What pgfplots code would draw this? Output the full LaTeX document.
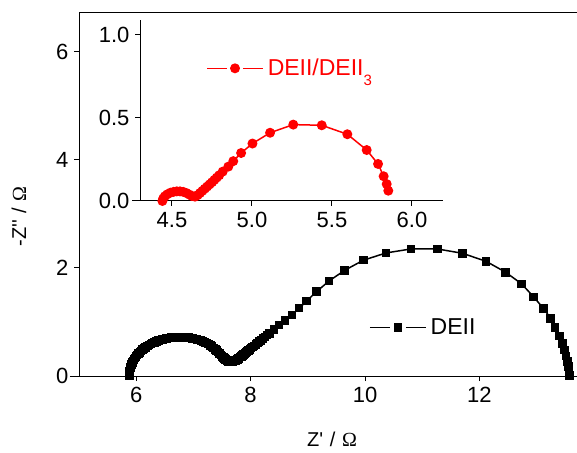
\documentclass[border=0pt]{standalone}
\usepackage{pgfplots}
\pgfplotsset{compat=1.18}
\usepackage{fontspec}
\setmainfont{Liberation Sans}[Ligatures=TeXOff]
\newfontfamily\seriffont{Liberation Serif}
\definecolor{myred}{RGB}{255,0,0}
\pgfplotsset{
  gaplegend/.style={legend image code/.code={%
    \draw[##1, mark=none] (0pt,0pt) -- (20pt,0pt);
    \draw[##1, mark=none] (36pt,0pt) -- (56pt,0pt);
    \draw[mark repeat=2,mark phase=2,##1, draw=none] plot coordinates {(0pt,0pt) (28pt,0pt) (56pt,0pt)};}},
}
\begin{document}
\begin{tikzpicture}[x=1pt,y=1pt]
\useasboundingbox (0,0) rectangle (577,452);
% main axis
\begin{axis}[
  at={(79pt,76pt)}, anchor=south west,
  scale only axis, width=500pt, height=363pt,
  xmin=5, xmax=13.741, ymin=0, ymax=6.72,
  xtick={6,8,10,12}, ytick={0,2,4,6},
  tick pos=left, tick align=outside, major tick length=5pt,
  axis line style={line width=1pt}, tick style={line width=1pt, black},
  /pgf/number format/assume math mode=true,
  tick label style={font=\fontsize{22}{24}\selectfont},
  xticklabel style={yshift=-3pt},
  yticklabel style={xshift=-2pt},
  xlabel={Z'\,\,/\,\,{\seriffont Ω}},
  ylabel={-Z''\,\,/\,\,{\seriffont Ω}},
  label style={font=\fontsize{20}{22}\selectfont},
  xlabel style={at={(axis description cs:0.506,-0.175)}, anchor=center},
  ylabel style={at={(axis description cs:-0.12,0.44)}, anchor=center, rotate=0},
  legend style={at={(axis description cs:0.58,0.133)}, anchor=west, draw=none, fill=none,
    inner sep=0pt, font=\fontsize{23}{26}\selectfont, nodes={inner xsep=4pt}},
  gaplegend,
  clip=false,
]
\addplot[black, line width=1.5pt, mark=square*, mark size=3.5pt, mark options={solid}] coordinates {
(5.880,0.000)(5.881,0.031)(5.883,0.063)(5.887,0.094)(5.893,0.125)(5.901,0.156)
(5.910,0.186)(5.921,0.216)(5.933,0.246)(5.947,0.275)(5.962,0.304)(5.980,0.332)
(5.998,0.360)(6.018,0.387)(6.039,0.413)(6.062,0.438)(6.086,0.463)(6.112,0.487)
(6.138,0.509)(6.166,0.531)(6.194,0.552)(6.224,0.572)(6.255,0.590)(6.287,0.608)
(6.320,0.624)(6.354,0.640)(6.388,0.653)(6.423,0.666)(6.459,0.677)(6.495,0.687)
(6.532,0.695)(6.569,0.703)(6.607,0.709)(6.645,0.714)(6.683,0.717)(6.721,0.719)
(6.760,0.720)(6.798,0.719)(6.837,0.717)(6.875,0.714)(6.913,0.709)(6.950,0.703)
(6.988,0.695)(7.025,0.687)(7.061,0.677)(7.097,0.666)(7.132,0.653)(7.166,0.640)
(7.200,0.624)(7.233,0.608)(7.265,0.590)(7.296,0.568)(7.326,0.545)(7.354,0.520)
(7.382,0.495)(7.408,0.468)(7.434,0.440)(7.458,0.415)(7.481,0.390)(7.502,0.365)
(7.522,0.340)(7.540,0.322)(7.558,0.305)(7.575,0.292)(7.590,0.280)(7.605,0.272)
(7.620,0.265)(7.635,0.262)(7.650,0.260)(7.665,0.262)(7.680,0.265)
(7.695,0.270)(7.710,0.275)(7.725,0.282)(7.740,0.290)(7.755,0.300)(7.770,0.310)
(7.785,0.322)(7.800,0.335)(7.820,0.350)(7.840,0.365)(7.860,0.382)(7.880,0.400)
(7.900,0.418)(7.920,0.435)(7.940,0.452)(7.960,0.470)(7.985,0.492)(8.010,0.515)
(8.035,0.535)(8.060,0.555)(8.090,0.582)(8.120,0.610)(8.150,0.635)(8.180,0.660)
(8.215,0.690)(8.250,0.720)(8.290,0.755)(8.330,0.790)(8.410,0.860)(8.500,0.940)
(8.600,1.025)(8.720,1.130)
(8.850,1.255)(8.980,1.390)(9.156,1.565)(9.371,1.759)(9.645,1.957)(9.970,2.143)
(10.367,2.278)(10.804,2.352)(11.264,2.352)(11.701,2.272)(12.115,2.124)(12.460,1.920)
(12.739,1.704)(12.949,1.463)(13.117,1.254)(13.246,1.069)(13.322,0.894)(13.397,0.741)
(13.449,0.606)(13.484,0.481)(13.514,0.370)(13.537,0.265)(13.554,0.172)(13.566,0.080)
(13.572,0.006)
};
\addlegendentry{DEII}
\draw[line width=1pt] (rel axis cs:-0.018,0) -- (rel axis cs:0,0);
\end{axis}
% inset
\begin{axis}[
  at={(140pt,251pt)}, anchor=south west,
  scale only axis, width=303pt, height=181pt,
  xmin=4.3, xmax=6.194, ymin=0, ymax=1.09,
  axis lines=left, axis line style={-, line width=1pt},
  xtick={4.5,5.0,5.5,6.0}, ytick={0,0.5,1.0},
  tick align=outside, major tick length=5pt, tick style={line width=1pt, black},
  /pgf/number format/assume math mode=true,
  /pgf/number format/.cd, fixed, fixed zerofill, precision=1, /pgfplots/.cd,
  tick label style={font=\fontsize{22}{24}\selectfont},
  xticklabel style={yshift=-3pt},
  yticklabel style={xshift=-2pt},
  legend style={at={(axis description cs:0.218,0.733)}, anchor=west, draw=none, fill=none,
    inner sep=0pt, font=\fontsize{23}{26}\selectfont, nodes={inner xsep=4pt, text=myred}},
  gaplegend,
  clip=false,
]
\addplot[myred, line width=1.5pt, mark=*, mark size=4.2pt, mark options={solid}] coordinates {
(4.440,0.000)(4.445,0.015)(4.455,0.028)(4.470,0.040)(4.490,0.050)(4.510,0.055)
(4.530,0.058)(4.550,0.058)(4.570,0.055)(4.590,0.048)(4.610,0.038)(4.625,0.030)
(4.644,0.026)(4.660,0.035)(4.675,0.048)(4.690,0.061)(4.705,0.074)(4.720,0.087)
(4.735,0.100)(4.750,0.113)(4.765,0.127)(4.780,0.141)(4.795,0.155)(4.817,0.177)
(4.852,0.207)(4.883,0.240)(4.932,0.289)(5.003,0.346)(5.113,0.411)(5.258,0.460)
(5.436,0.456)(5.596,0.402)(5.717,0.307)(5.788,0.223)(5.823,0.149)(5.842,0.102)
(5.852,0.062)
};
\addlegendentry{DEII/DEII\raisebox{-0.4em}{\fontsize{15}{15}\selectfont 3}}
\draw[line width=1pt] (rel axis cs:-0.026,0) -- (rel axis cs:0,0);
\end{axis}
\end{tikzpicture}
\end{document}
